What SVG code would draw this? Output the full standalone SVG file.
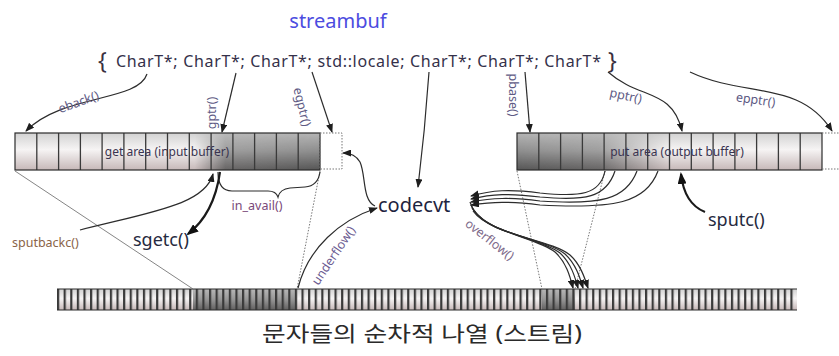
<svg xmlns="http://www.w3.org/2000/svg" width="839" height="356" viewBox="0 0 839 356">
<style>
text{font-family:"Noto Sans","Noto Sans CJK KR",sans-serif}
.lbl{font-size:12.5px;fill:#5e5a84}
.big{font-size:20px;fill:#1e2440}
.mid{font-size:18px;fill:#262a40}
.cell{fill:none;stroke:#3a3a3a;stroke-width:1.3}
.edge{fill:none;stroke:#2c2c2c;stroke-width:1.2}
.dot{fill:none;stroke:#777;stroke-width:1;stroke-dasharray:1.5 1.5}
.thin{fill:none;stroke:#666;stroke-width:0.8}
.arr{fill:none;stroke:#2c2c2c;stroke-width:1.2;marker-end:url(#ah)}
.thick{fill:none;stroke:#1a1a1a;stroke-width:2.2;marker-end:url(#ahb)}
</style>
<defs>
<marker id="ah" markerUnits="userSpaceOnUse" markerWidth="9" markerHeight="7" refX="8" refY="3.5" orient="auto"><path d="M0,0 L9,3.5 L0,7 z" fill="#1e1e1e"/></marker>
<marker id="ahb" markerUnits="userSpaceOnUse" markerWidth="12" markerHeight="9" refX="10" refY="4.5" orient="auto"><path d="M0,0 L12,4.5 L0,9 z" fill="#111"/></marker>
<linearGradient id="lightV" x1="0" y1="0" x2="0" y2="1"><stop offset="0" stop-color="#d2d2d2"/><stop offset="0.45" stop-color="#f6f4f4"/><stop offset="1" stop-color="#c6b8b8"/></linearGradient>
<linearGradient id="darkV" x1="0" y1="0" x2="0" y2="1"><stop offset="0" stop-color="#b4b4b4"/><stop offset="0.5" stop-color="#8c8c8c"/><stop offset="1" stop-color="#555"/></linearGradient>
<linearGradient id="mL" gradientUnits="userSpaceOnUse" x1="15" y1="0" x2="320" y2="0"><stop offset="0" stop-color="#fff" stop-opacity="0"/><stop offset="0.59" stop-color="#fff" stop-opacity="0"/><stop offset="0.69" stop-color="#fff" stop-opacity="0.85"/><stop offset="1" stop-color="#fff" stop-opacity="1"/></linearGradient>
<linearGradient id="mR" gradientUnits="userSpaceOnUse" x1="517" y1="0" x2="822" y2="0"><stop offset="0" stop-color="#fff" stop-opacity="1"/><stop offset="0.27" stop-color="#fff" stop-opacity="0.85"/><stop offset="0.5" stop-color="#fff" stop-opacity="0"/><stop offset="1" stop-color="#fff" stop-opacity="0"/></linearGradient>
<mask id="maskL" maskUnits="userSpaceOnUse" x="0" y="0" width="839" height="356"><rect x="15" y="133" width="305" height="37" fill="url(#mL)"/></mask>
<mask id="maskR" maskUnits="userSpaceOnUse" x="0" y="0" width="839" height="356"><rect x="517" y="133" width="305" height="37" fill="url(#mR)"/></mask>
<pattern id="ticks" patternUnits="userSpaceOnUse" x="57" y="289" width="6.607" height="21"><rect x="0" y="0" width="2.2" height="21" fill="#3a3a3a"/></pattern>
</defs>
<rect width="839" height="356" fill="#fff"/>

<g id="title"><text x="338" y="28" text-anchor="middle" style="font-size:20px;fill:#4c4ce0">streambuf</text></g>

<g id="struct">
<text x="98" y="69" style="font-size:23px;fill:#3a3040">{</text>
<text x="116" y="67" textLength="485" lengthAdjust="spacing" style="font-size:16px;fill:#35314a">CharT*; CharT*; CharT*; std::locale; CharT*; CharT*; CharT*</text>
<text x="608" y="69" style="font-size:23px;fill:#3a3040">}</text>
</g>

<g id="get-area">
<rect x="15" y="133" width="305" height="37" fill="url(#lightV)"/>
<rect x="15" y="133" width="305" height="37" fill="url(#darkV)" mask="url(#maskL)"/>
<path class="cell" d="M36.8,133V170M58.6,133V170M80.4,133V170M102.1,133V170M123.9,133V170M145.7,133V170M167.5,133V170M189.3,133V170M211.1,133V170M232.9,133V170M254.6,133V170M276.4,133V170M298.2,133V170"/>
<rect class="edge" x="15" y="133" width="305" height="37"/>
<rect class="dot" x="320" y="133" width="22" height="36"/>
<text x="167" y="156" text-anchor="middle" style="font-size:12px;fill:#3a3450">get area (input buffer)</text>
</g>

<g id="put-area">
<rect x="517" y="133" width="305" height="37" fill="url(#lightV)"/>
<rect x="517" y="133" width="305" height="37" fill="url(#darkV)" mask="url(#maskR)"/>
<path class="cell" d="M538.8,133V170M560.6,133V170M582.4,133V170M604.1,133V170M625.9,133V170M647.7,133V170M669.5,133V170M691.3,133V170M713.1,133V170M734.9,133V170M756.6,133V170M778.4,133V170M800.2,133V170"/>
<rect class="edge" x="517" y="133" width="305" height="37"/>
<path class="dot" d="M822,133H839M822,169H839"/>
<text x="677" y="156" text-anchor="middle" style="font-size:12px;fill:#3a3450">put area (output buffer)</text>
</g>

<g id="stream">
<rect x="57" y="289" width="740" height="21" fill="url(#lightV)"/>
<rect x="193" y="289" width="104" height="21" fill="url(#darkV)" opacity="0.9"/>
<rect x="542" y="289" width="33" height="21" fill="url(#darkV)" opacity="0.9"/>
<rect x="57" y="289" width="740" height="21" fill="url(#ticks)"/>
<path class="edge" d="M57,289H797M57,310H797"/>
<text x="422" y="341" text-anchor="middle" textLength="320" lengthAdjust="spacingAndGlyphs" style="font-size:21px;fill:#2a2a2a">문자들의 순차적 나열 (스트림)</text>
</g>

<g id="codecvt"><text class="big" x="378" y="212">codecvt</text></g>
<g id="sgetc"><text class="mid" x="133" y="246">sgetc()</text></g>
<g id="sputc"><text class="mid" x="708" y="226">sputc()</text></g>

<g id="connectors">
<path class="arr" d="M147,74 C138,102 62,94 26,131"/>
<path class="arr" d="M236,73 L222,132"/>
<path class="arr" d="M312,72 L332,132"/>
<path class="arr" d="M429,72 Q425,130 418,187"/>
<path class="arr" d="M525,72 L530,132"/>
<path class="arr" d="M608,72 C640,100 672,88 682,131"/>
<path class="arr" d="M690,72 C745,98 800,80 832,131"/>

<path class="thin" d="M15,171 L193,289"/>
<path class="dot" d="M320,171 L297,289"/>
<path class="dot" d="M517,171 L542,289"/>
<path class="dot" d="M605,171 L575,289"/>

<path class="edge" d="M218,172 Q218,191 232,191 L268,191 Q276,191 278,197 Q280,189 290,188 L305,187 Q318,186 320,172"/>
<path class="thick" d="M220,172 C216,200 206,220 188,234"/>
<path class="arr" d="M80,230 C150,212 205,205 213,174"/>
<path class="arr" d="M298,288 C308,248 340,220 377,208"/>
<path class="arr" d="M375,206 C362,200 366,175 360,162 C356,155 350,153 343,153"/>

<path class="arr" d="M605,171 C600,195 580,197 540,193 C510,189 492,190 471,196"/>
<path class="arr" d="M615,171 C606,198 585,201 540,197 C510,193 492,194 471,199"/>
<path class="arr" d="M637,171 C626,200 600,205 540,201 C510,197 492,198 471,202"/>
<path class="arr" d="M658,171 C646,203 615,209 540,205 C510,201 492,202 471,205"/>
<path class="arr" d="M470,202 C478,232 535,236 555,252 C566,262 570,276 573,288"/>
<path class="arr" d="M471,205 C482,233 540,237 560,253 C571,263 575,277 578,288"/>
<path class="arr" d="M472,208 C486,234 545,238 565,254 C576,264 580,278 583,288"/>
<path class="arr" d="M473,211 C490,235 550,239 570,255 C581,265 585,279 588,288"/>

<path class="thick" d="M705,212 C690,206 683,192 681,174"/>
</g>

<g id="labels">
<text class="lbl" transform="translate(80,106) rotate(-20)" text-anchor="middle">eback()</text>
<text class="lbl" transform="translate(216,113) rotate(-90)" text-anchor="middle">gptr()</text>
<text class="lbl" transform="translate(298,108) rotate(76)" text-anchor="middle">egptr()</text>
<text class="lbl" transform="translate(509,95) rotate(90)" text-anchor="middle">pbase()</text>
<text class="lbl" transform="translate(625,100) rotate(12)" text-anchor="middle">pptr()</text>
<text class="lbl" transform="translate(755,104) rotate(8)" text-anchor="middle">epptr()</text>
<text class="lbl" x="257" y="210" text-anchor="middle" style="fill:#7a4a7a">in_avail()</text>
<text class="lbl" x="12" y="247" style="fill:#8a6448">sputbackc()</text>
<text class="lbl" transform="translate(337,258) rotate(-56)" text-anchor="middle" style="fill:#6a5a90">underflow()</text>
<text class="lbl" transform="translate(487,243) rotate(38)" text-anchor="middle" style="fill:#7e6a8a">overflow()</text>
</g>
</svg>
